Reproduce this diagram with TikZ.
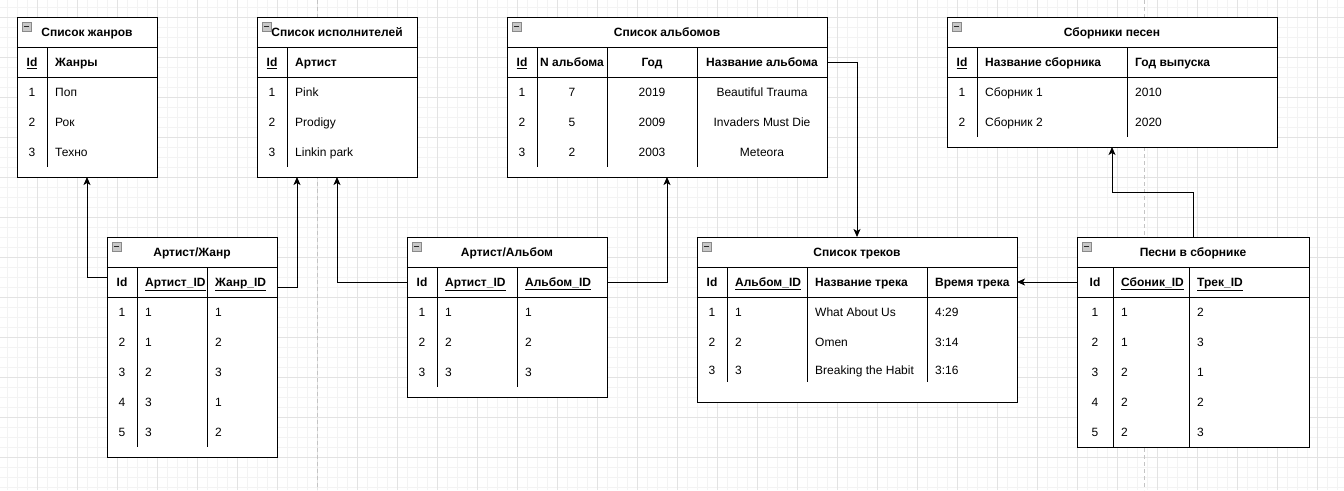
\documentclass[tikz,border=0pt]{standalone}
\usepackage{fontspec}
\setmainfont{Liberation Sans}
\usetikzlibrary{arrows.meta}
\definecolor{minorgrid}{HTML}{F3F3F3}
\definecolor{majorgrid}{HTML}{E3E3E3}
\definecolor{pagebreak}{HTML}{C4C4C4}
\definecolor{iconfill}{HTML}{C8C8C8}
\definecolor{iconline}{HTML}{8A8A8A}
\tikzset{
  tbl/.style={draw=black, line width=1pt, fill=white, inner sep=0pt, outer sep=0pt},
  rule/.style={draw=black, line width=1pt},
  ttl/.style={font=\fontsize{12}{14}\selectfont\bfseries, inner sep=0pt, text height=9pt, text depth=0pt},
  cellc/.style={font=\fontsize{12}{14}\selectfont, inner sep=0pt, text height=9pt, text depth=0pt},
  celll/.style={cellc, anchor=west},
  hdr/.style={font=\fontsize{12}{14}\selectfont\bfseries},
  icon/.style={draw=iconline, fill=iconfill, line width=0.7pt, minimum size=8.5pt, inner sep=0pt, anchor=north west},
  arr/.style={draw=black, line width=1pt, line join=miter, -{Stealth[length=8pt,width=7pt,inset=2pt]}},
  minorg/.style={draw=minorgrid, line width=0.8pt},
  majorg/.style={draw=majorgrid, line width=0.8pt},
}
% name, x, y, w, h, title
\newcommand\erTable[6]{%
  \node[tbl, minimum width=#4pt, minimum height=#5pt, anchor=north west] (#1) at (#2,#3) {};
  \draw[rule] (#2,#3+30) -- ++(#4,0);
  \draw[rule] (#2,#3+60) -- ++(#4,0);
  \node[ttl] (#1-title) at (#2+#4/2,#3+15) {#6};
  \node[icon] (#1-icon) at (#2+5,#3+5) {};
  \draw[black!85, line width=1.1pt] (#1-icon.west) ++(1.8pt,0) -- ++(4.9pt,0);
}
\newcommand\cellC[5][]{\node[cellc,#1] (#2) at (#3,#4) {#5};}
\newcommand\cellL[5][]{\node[celll,#1] (#2) at (#3,#4) {#5};}
\newcommand\colRule[3]{\draw[rule] (#1,#2) -- (#1,#3);}
\begin{document}
\begin{tikzpicture}[x=1pt,y=-1pt]
\useasboundingbox (0,0) rectangle (1344,490);
\fill[white] (0,0) rectangle (1344,490);
% background grid
\foreach \x in {7,17,...,1337} \draw[minorg] (\x,0) -- (\x,490);
\foreach \y in {7,17,...,487} \draw[minorg] (0,\y) -- (1344,\y);
\foreach \x in {37,77,...,1317} \draw[majorg] (\x,0) -- (\x,490);
\foreach \y in {17,57,...,457} \draw[majorg] (0,\y) -- (1344,\y);
\draw[pagebreak, line width=0.8pt, dash pattern=on 4pt off 3pt] (317,0) -- (317,490);
\draw[pagebreak, line width=0.8pt, dash pattern=on 4pt off 3pt] (1144,0) -- (1144,490);

% ---------- Список жанров ----------
\erTable{t1}{17}{17}{140}{160}{Список жанров}
\colRule{47}{47}{167}
\cellC[hdr]{t1h1}{32}{62}{\underline{Id}}
\cellL[hdr]{t1h2}{55}{62}{Жанры}
\cellC{t1r1c1}{32}{92}{1}  \cellL{t1r1c2}{55}{92}{Поп}
\cellC{t1r2c1}{32}{122}{2} \cellL{t1r2c2}{55}{122}{Рок}
\cellC{t1r3c1}{32}{152}{3} \cellL{t1r3c2}{55}{152}{Техно}

% ---------- Список исполнителей ----------
\erTable{t2}{257}{17}{160}{160}{Список исполнителей}
\colRule{287}{47}{167}
\cellC[hdr]{t2h1}{272}{62}{\underline{Id}}
\cellL[hdr]{t2h2}{295}{62}{Артист}
\cellC{t2r1c1}{272}{92}{1}  \cellL{t2r1c2}{295}{92}{Pink}
\cellC{t2r2c1}{272}{122}{2} \cellL{t2r2c2}{295}{122}{Prodigy}
\cellC{t2r3c1}{272}{152}{3} \cellL{t2r3c2}{295}{152}{Linkin park}

% ---------- Список альбомов ----------
\erTable{t3}{507}{17}{320}{160}{Список альбомов}
\colRule{537}{47}{167}
\colRule{607}{47}{167}
\colRule{697}{47}{167}
\cellC[hdr]{t3h1}{522}{62}{\underline{Id}}
\cellC[hdr]{t3h2}{572}{62}{N альбома}
\cellC[hdr]{t3h3}{652}{62}{Год}
\cellC[hdr]{t3h4}{762}{62}{Название альбома}
\cellC{t3r1c1}{522}{92}{1} \cellC{t3r1c2}{572}{92}{7} \cellC{t3r1c3}{652}{92}{2019} \cellC{t3r1c4}{762}{92}{Beautiful Trauma}
\cellC{t3r2c1}{522}{122}{2} \cellC{t3r2c2}{572}{122}{5} \cellC{t3r2c3}{652}{122}{2009} \cellC{t3r2c4}{762}{122}{Invaders Must Die}
\cellC{t3r3c1}{522}{152}{3} \cellC{t3r3c2}{572}{152}{2} \cellC{t3r3c3}{652}{152}{2003} \cellC{t3r3c4}{762}{152}{Meteora}

% ---------- Сборники песен ----------
\erTable{t4}{947}{17}{330}{130}{Сборники песен}
\colRule{977}{47}{137}
\colRule{1127}{47}{137}
\cellC[hdr]{t4h1}{962}{62}{\underline{Id}}
\cellL[hdr]{t4h2}{985}{62}{Название сборника}
\cellL[hdr]{t4h3}{1135}{62}{Год выпуска}
\cellC{t4r1c1}{962}{92}{1}  \cellL{t4r1c2}{985}{92}{Сборник 1}  \cellL{t4r1c3}{1135}{92}{2010}
\cellC{t4r2c1}{962}{122}{2} \cellL{t4r2c2}{985}{122}{Сборник 2} \cellL{t4r2c3}{1135}{122}{2020}

% ---------- Артист/Жанр ----------
\erTable{t5}{107}{237}{170}{220}{Артист/Жанр}
\colRule{137}{267}{447}
\colRule{207}{267}{447}
\cellC[hdr]{t5h1}{122}{282}{Id}
\cellL[hdr]{t5h2}{145}{282}{\underline{Артист\_ID}}
\cellL[hdr]{t5h3}{215}{282}{\underline{Жанр\_ID}}
\cellC{t5r1c1}{122}{312}{1} \cellL{t5r1c2}{145}{312}{1} \cellL{t5r1c3}{215}{312}{1}
\cellC{t5r2c1}{122}{342}{2} \cellL{t5r2c2}{145}{342}{1} \cellL{t5r2c3}{215}{342}{2}
\cellC{t5r3c1}{122}{372}{3} \cellL{t5r3c2}{145}{372}{2} \cellL{t5r3c3}{215}{372}{3}
\cellC{t5r4c1}{122}{402}{4} \cellL{t5r4c2}{145}{402}{3} \cellL{t5r4c3}{215}{402}{1}
\cellC{t5r5c1}{122}{432}{5} \cellL{t5r5c2}{145}{432}{3} \cellL{t5r5c3}{215}{432}{2}

% ---------- Артист/Альбом ----------
\erTable{t6}{407}{237}{200}{160}{Артист/Альбом}
\colRule{437}{267}{387}
\colRule{517}{267}{387}
\cellC[hdr]{t6h1}{422}{282}{Id}
\cellL[hdr]{t6h2}{445}{282}{\underline{Артист\_ID}}
\cellL[hdr]{t6h3}{525}{282}{\underline{Альбом\_ID}}
\cellC{t6r1c1}{422}{312}{1} \cellL{t6r1c2}{445}{312}{1} \cellL{t6r1c3}{525}{312}{1}
\cellC{t6r2c1}{422}{342}{2} \cellL{t6r2c2}{445}{342}{2} \cellL{t6r2c3}{525}{342}{2}
\cellC{t6r3c1}{422}{372}{3} \cellL{t6r3c2}{445}{372}{3} \cellL{t6r3c3}{525}{372}{3}

% ---------- Список треков ----------
\erTable{t7}{697}{237}{320}{165}{Список треков}
\colRule{727}{267}{382}
\colRule{807}{267}{382}
\colRule{927}{267}{382}
\cellC[hdr]{t7h1}{712}{282}{Id}
\cellL[hdr]{t7h2}{735}{282}{\underline{Альбом\_ID}}
\cellL[hdr]{t7h3}{815}{282}{Название трека}
\cellL[hdr]{t7h4}{935}{282}{Время трека}
\cellC{t7r1c1}{712}{312}{1} \cellL{t7r1c2}{735}{312}{1} \cellL{t7r1c3}{815}{312}{What About Us} \cellL{t7r1c4}{935}{312}{4:29}
\cellC{t7r2c1}{712}{342}{2} \cellL{t7r2c2}{735}{342}{2} \cellL{t7r2c3}{815}{342}{Omen} \cellL{t7r2c4}{935}{342}{3:14}
\cellC{t7r3c1}{712}{370}{3} \cellL{t7r3c2}{735}{370}{3} \cellL{t7r3c3}{815}{370}{Breaking the Habit} \cellL{t7r3c4}{935}{370}{3:16}

% ---------- Песни в сборнике ----------
\erTable{t8}{1077}{237}{232}{210}{Песни в сборнике}
\colRule{1113}{267}{447}
\colRule{1189}{267}{447}
\cellC[hdr]{t8h1}{1095}{282}{Id}
\cellL[hdr]{t8h2}{1121}{282}{\underline{Сбоник\_ID}}
\cellL[hdr]{t8h3}{1197}{282}{\underline{Трек\_ID}}
\cellC{t8r1c1}{1095}{312}{1} \cellL{t8r1c2}{1121}{312}{1} \cellL{t8r1c3}{1197}{312}{2}
\cellC{t8r2c1}{1095}{342}{2} \cellL{t8r2c2}{1121}{342}{1} \cellL{t8r2c3}{1197}{342}{3}
\cellC{t8r3c1}{1095}{372}{3} \cellL{t8r3c2}{1121}{372}{2} \cellL{t8r3c3}{1197}{372}{1}
\cellC{t8r4c1}{1095}{402}{4} \cellL{t8r4c2}{1121}{402}{2} \cellL{t8r4c3}{1197}{402}{2}
\cellC{t8r5c1}{1095}{432}{5} \cellL{t8r5c2}{1121}{432}{2} \cellL{t8r5c3}{1197}{432}{3}

% ---------- connectors ----------
\draw[arr] ([yshift=-40pt]t5.north west) -| (t1.south);
\draw[arr] ([yshift=-50pt]t5.north east) -| ([xshift=-40pt]t2.south);
\draw[arr] ([yshift=-45pt]t6.north west) -| (t2.south);
\draw[arr] ([yshift=-45pt]t6.north east) -| (t3.south);
\draw[arr] ([yshift=-45pt]t3.north east) -| (t7.north);
\draw[arr] ([yshift=-45pt]t8.north west) -- ([yshift=-45pt]t7.north east);
\draw[arr] (t8.north) -- ++(0,-45) -| (t4.south);
\end{tikzpicture}
\end{document}
